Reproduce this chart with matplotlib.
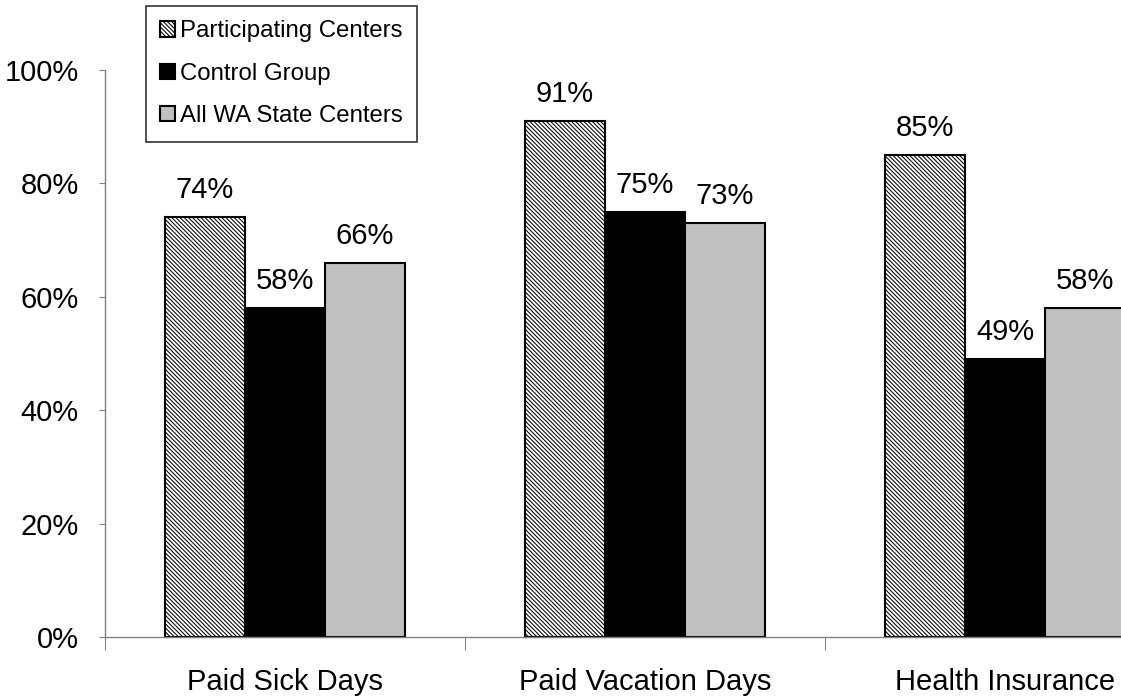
import numpy as np
import matplotlib
matplotlib.use('Agg')
import matplotlib.pyplot as plt
from matplotlib.patches import Patch

plt.rcParams['font.family'] = ['Liberation Sans', 'DejaVu Sans']
plt.rcParams['hatch.linewidth'] = 0.75

categories = ['Paid Sick Days', 'Paid Vacation Days', 'Health Insurance']
series_names = ['Participating Centers', 'Control Group', 'All WA State Centers']
participating = [74, 91, 85]
control = [58, 75, 49]
all_wa = [66, 73, 58]
y_ticks = [0, 20, 40, 60, 80, 100]

W, H = 1121, 698
fig = plt.figure(figsize=(W / 100, H / 100), dpi=100)
# axes: x from 105px, 3 categories of 360px each (runs past right edge)
ax = fig.add_axes([105 / W, 1 - 637 / H, 1080 / W, 567 / H])
ax.set_xlim(0, 3)
ax.set_ylim(0, 100)

bw = 80 / 360
x = np.arange(3) + 0.5
styles = [
    dict(facecolor='white', hatch='\\' * 8),
    dict(facecolor='black'),
    dict(facecolor='#c0c0c0'),
]
for i, vals in enumerate([participating, control, all_wa]):
    pos = x + (i - 1) * bw
    ax.bar(pos, vals, width=bw, edgecolor='black', linewidth=1.5, clip_on=False, **styles[i])
    for p, v in zip(pos, vals):
        ax.text(p, v + 2.3, f'{v}%', ha='center', va='bottom', fontsize=21)

for s in ['top', 'right']:
    ax.spines[s].set_visible(False)
for s in ['left', 'bottom']:
    ax.spines[s].set_color('#808080')
    ax.spines[s].set_linewidth(1)

ax.set_yticks(y_ticks)
ax.set_yticklabels([f'{t}%' for t in y_ticks], fontsize=21)
ax.tick_params(axis='y', direction='out', length=4, color='#808080', pad=15)

ax.set_xticks([0, 1, 2, 3])
ax.set_xticklabels([])
ax.set_xticks(x, minor=True)
ax.set_xticklabels(categories, minor=True, fontsize=21)
ax.tick_params(axis='x', which='major', direction='out', length=9, color='#808080')
ax.tick_params(axis='x', which='minor', length=0, pad=22)

handles = [Patch(edgecolor='black', linewidth=1.5, **styles[i]) for i in range(3)]
leg = fig.legend(handles, series_names, loc='upper left',
                 bbox_to_anchor=(146 / W, 1 - 6 / H), fontsize=17.3,
                 frameon=True, fancybox=False, edgecolor='black',
                 handlelength=0.6, handleheight=0.6, handletextpad=0.2,
                 labelspacing=0.85, borderpad=0.6, borderaxespad=0)
leg.get_frame().set_linewidth(1.2)

fig.savefig('out.png', dpi=100)
